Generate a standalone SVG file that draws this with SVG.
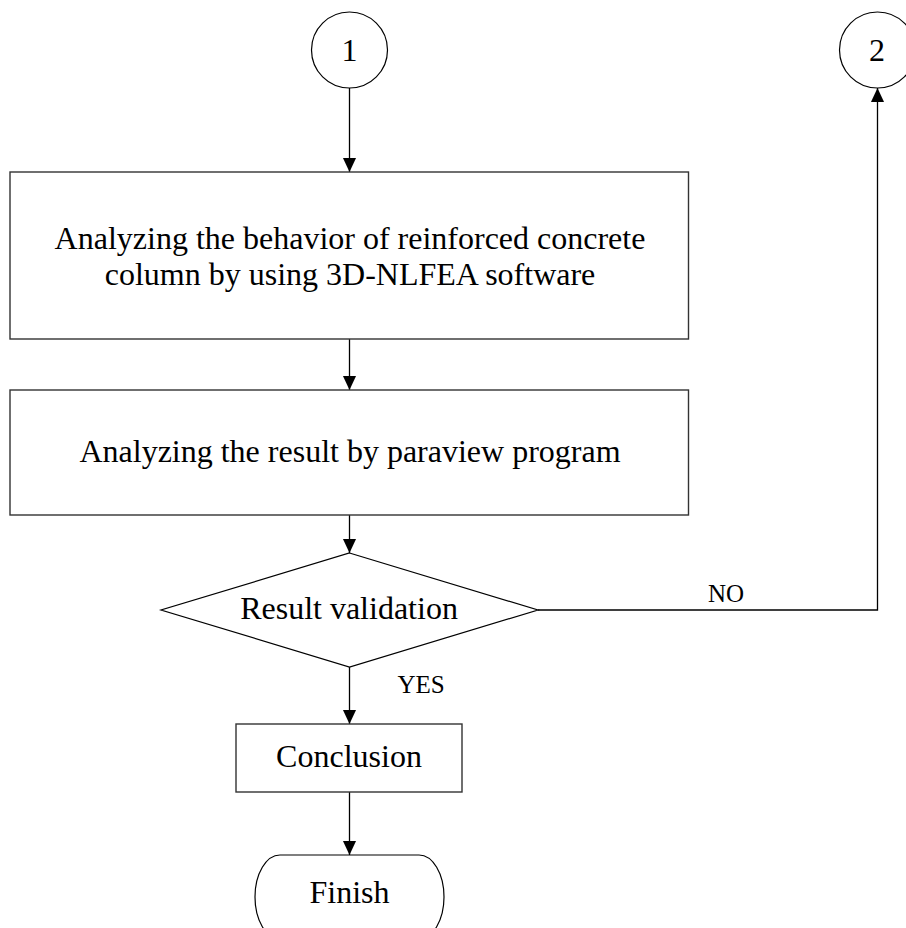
<svg xmlns="http://www.w3.org/2000/svg" width="906" height="928" viewBox="0 0 906 928">
<style>
.shape{fill:#fff;stroke:#000;stroke-width:1.2}
.box{fill:#fff;stroke:#333;stroke-width:1.4}
.lbl{font-family:"Liberation Serif","Times New Roman",serif;font-size:32px;fill:#000;text-anchor:middle}
.small{font-size:25px}
.conn{fill:none;stroke:#000;stroke-width:1.3}
</style>
<defs>
<marker id="arr" markerWidth="14" markerHeight="16" refX="15" refY="7" orient="auto" markerUnits="userSpaceOnUse" viewBox="0 0 15 14">
<path d="M0,0 L15,7 L0,14 Z" fill="#000"/>
</marker>
</defs>
<rect width="906" height="928" fill="#fff"/>
<g id="connectors">
<line class="conn" x1="349.5" y1="88" x2="349.5" y2="172" marker-end="url(#arr)"/>
<line class="conn" x1="349.5" y1="339" x2="349.5" y2="390" marker-end="url(#arr)"/>
<line class="conn" x1="349.5" y1="515" x2="349.5" y2="553" marker-end="url(#arr)"/>
<line class="conn" x1="349.5" y1="667" x2="349.5" y2="724" marker-end="url(#arr)"/>
<line class="conn" x1="349.5" y1="792" x2="349.5" y2="855" marker-end="url(#arr)"/>
<polyline class="conn" points="538,610 877.5,610 877.5,88" marker-end="url(#arr)"/>
<text class="lbl small" x="726" y="602">NO</text>
<text class="lbl small" x="421" y="693">YES</text>
</g>
<g id="start1">
<circle class="shape" cx="349.5" cy="50" r="38"/>
<text class="lbl" x="349.5" y="61">1</text>
</g>
<g id="start2">
<circle class="shape" cx="877.5" cy="50" r="38"/>
<text class="lbl" x="877" y="61">2</text>
</g>
<g id="analyze3d">
<rect class="box" x="10" y="172" width="678.5" height="167"/>
<text class="lbl" x="350" y="249">Analyzing the behavior of reinforced concrete</text>
<text class="lbl" x="350" y="285">column by using 3D-NLFEA software</text>
</g>
<g id="paraview">
<rect class="box" x="10" y="390" width="678.5" height="125"/>
<text class="lbl" x="350" y="462">Analyzing the result by paraview program</text>
</g>
<g id="validation">
<polygon class="shape" points="349.5,553 538,610 349.5,667 161,610"/>
<text class="lbl" x="349" y="619">Result validation</text>
</g>
<g id="conclusion">
<rect class="box" x="236" y="724" width="226" height="68"/>
<text class="lbl" x="349" y="767">Conclusion</text>
</g>
<g id="finish">
<rect class="shape" x="255" y="855" width="189" height="84" rx="25" ry="42"/>
<text class="lbl" x="349.5" y="903">Finish</text>
</g>
</svg>
